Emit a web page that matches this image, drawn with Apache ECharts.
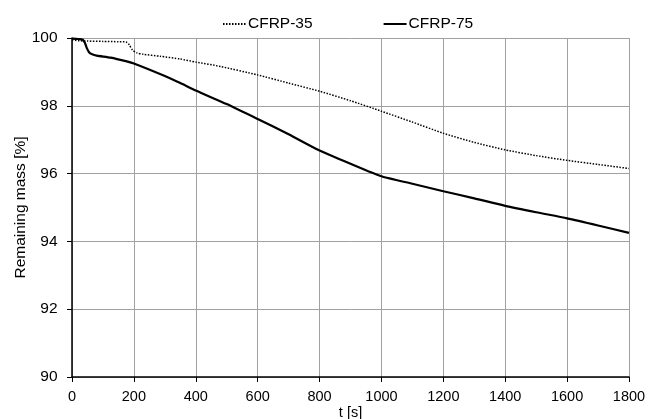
<!DOCTYPE html>
<html>
<head>
<meta charset="utf-8">
<script src="https://cdn.jsdelivr.net/npm/echarts@6/dist/echarts.min.js"></script>
<style>html,body{margin:0;padding:0;background:#fff;}#c{width:658px;height:419px;}</style>
</head>
<body>
<div id="c"></div>
<script>
var xTicks = [0, 200, 400, 600, 800, 1000, 1200, 1400, 1600, 1800];
var yTicks = [90, 92, 94, 96, 98, 100];

var t35 = [0, 20, 50, 100, 150, 175, 185, 195, 210, 230, 285, 350, 400, 480, 600, 700, 800, 900, 1000, 1100, 1200, 1300, 1400, 1500, 1600, 1700, 1800];
var m35 = [99.95, 99.92, 99.91, 99.90, 99.89, 99.88, 99.80, 99.65, 99.56, 99.52, 99.46, 99.38, 99.29, 99.16, 98.91, 98.67, 98.43, 98.15, 97.84, 97.52, 97.19, 96.92, 96.70, 96.53, 96.39, 96.27, 96.15];

var t75 = [0, 20, 35, 42, 48, 55, 65, 80, 125, 177, 200, 300, 350, 400, 500, 600, 700, 800, 900, 1000, 1100, 1200, 1300, 1400, 1500, 1600, 1700, 1800];
var m75 = [99.98, 99.97, 99.95, 99.85, 99.70, 99.58, 99.52, 99.48, 99.42, 99.31, 99.25, 98.88, 98.67, 98.45, 98.05, 97.61, 97.16, 96.68, 96.29, 95.92, 95.70, 95.48, 95.27, 95.05, 94.86, 94.68, 94.47, 94.25];

function pairs(t, m) { return t.map(function (v, i) { return [v, m[i]]; }); }

var FONT = 'Liberation Sans, Arial, sans-serif';
var chart = echarts.init(document.getElementById('c'));
chart.setOption({
  animation: false,
  backgroundColor: '#fff',
  grid: { left: 72, right: 29, top: 38, bottom: 42, containLabel: false, outerBoundsMode: 'none' },
  legend: {
    top: 11, left: 217,
    itemWidth: 23, itemHeight: 10, itemGap: 70,
    itemStyle: { opacity: 0 },
    textStyle: { fontFamily: FONT, fontSize: 15.5, color: '#000', padding: [0, 0, 0, -3] },
    data: ['CFRP-35', 'CFRP-75']
  },
  xAxis: {
    type: 'value', min: xTicks[0], max: xTicks[xTicks.length - 1], interval: 200,
    name: 't [s]', nameLocation: 'middle', nameGap: 28, nameMoveOverlap: false,
    nameTextStyle: { fontFamily: FONT, fontSize: 14.5, color: '#000' },
    axisLine: { lineStyle: { color: '#000', width: 1.5 } },
    axisTick: { show: true, inside: false, length: 5, lineStyle: { color: '#000' } },
    axisLabel: { fontFamily: FONT, fontSize: 14.5, color: '#000', margin: 12, formatter: function (v) { return String(v); } },
    splitLine: { show: true, lineStyle: { color: '#a0a0a0', width: 1 } }
  },
  yAxis: {
    type: 'value', min: yTicks[0], max: yTicks[yTicks.length - 1], interval: 2,
    name: 'Remaining mass [%]', nameLocation: 'middle', nameGap: 43, nameMoveOverlap: false,
    nameTextStyle: { fontFamily: FONT, fontSize: 15.5, color: '#000' },
    axisLine: { show: true, lineStyle: { color: '#000', width: 1.5 } },
    axisTick: { show: true, inside: false, length: 5, lineStyle: { color: '#000' } },
    axisLabel: { fontFamily: FONT, fontSize: 15.5, color: '#000', margin: 14.5 },
    splitLine: { show: true, lineStyle: { color: '#a0a0a0', width: 1 } }
  },
  series: [
    {
      name: 'CFRP-35', type: 'line', showSymbol: false, symbol: 'none', smooth: 0.2,
      data: pairs(t35, m35),
      lineStyle: { color: '#000', width: 1.5, type: [1.5, 1.5] },
      itemStyle: { color: '#000' }
    },
    {
      name: 'CFRP-75', type: 'line', showSymbol: false, symbol: 'none', smooth: 0.2,
      data: pairs(t75, m75),
      lineStyle: { color: '#000', width: 2.2, type: 'solid' },
      itemStyle: { color: '#000' }
    }
  ]
});
</script>
</body>
</html>
